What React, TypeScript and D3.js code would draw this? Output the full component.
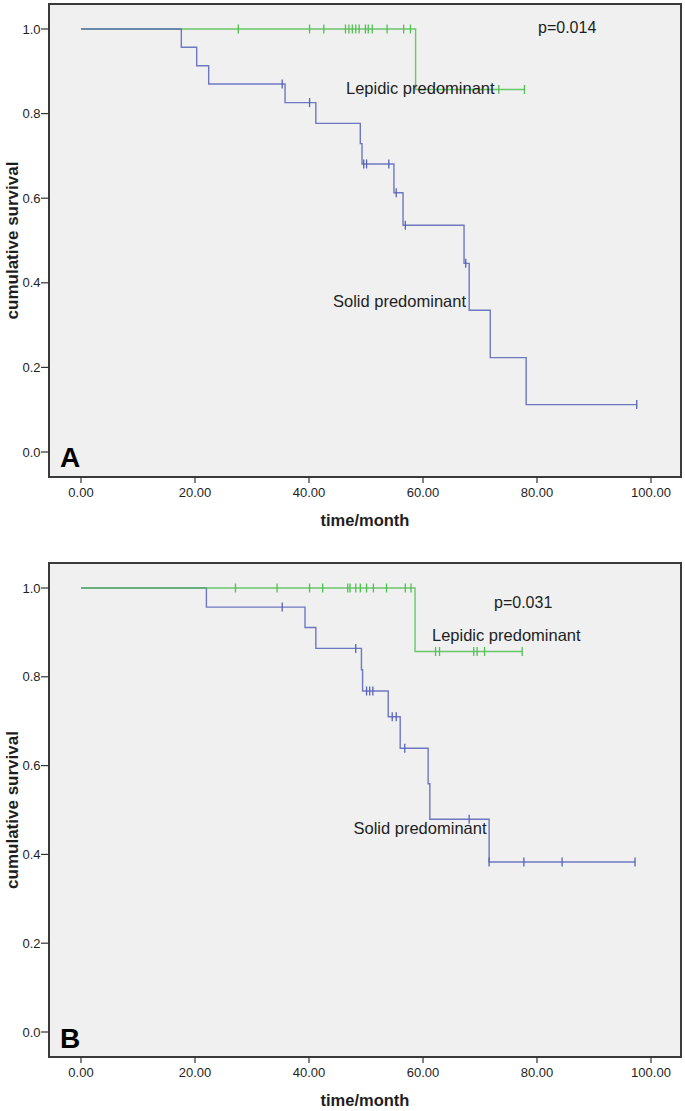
import React from "react";
import * as d3 from "d3";

// ---------- data ----------
const xTicks = [0, 20, 40, 60, 80, 100];
const yTicks = [0, 0.2, 0.4, 0.6, 0.8, 1.0];

// Panel A – Solid predominant (blue)
const aSolidTimes = [0, 17.6, 20.3, 22.4, 35.8, 41.2, 49.0, 49.3, 54.9, 56.5, 67.2, 68.1, 71.8, 78.1];
const aSolidSurv = [1, 0.957, 0.913, 0.87, 0.826, 0.777, 0.729, 0.681, 0.613, 0.536, 0.446, 0.335, 0.223, 0.112];
const aSolidEnd = 97.5;
const aSolidCensor = [35.3, 40.1, 49.6, 50.1, 54.0, 55.3, 56.9, 67.5, 97.5];
// Panel A – Lepidic predominant (green)
const aLepTimes = [0, 58.7];
const aLepSurv = [1, 0.857];
const aLepEnd = 77.8;
const aLepCensor = [27.6, 40.1, 42.6, 46.4, 47.0, 47.6, 48.2, 48.8, 49.9, 50.4, 51.1, 53.7, 56.6, 57.8, 73.3, 77.8];

// Panel B – Solid predominant (blue)
const bSolidTimes = [0, 22.0, 39.3, 41.2, 49.2, 49.4, 53.9, 56.0, 60.9, 61.2, 71.6];
const bSolidSurv = [1, 0.957, 0.911, 0.864, 0.816, 0.768, 0.71, 0.639, 0.559, 0.479, 0.383];
const bSolidEnd = 97.2;
const bSolidCensor = [35.3, 48.2, 50.1, 50.65, 51.2, 54.6, 55.3, 56.8, 68.1, 71.6, 77.7, 84.4, 97.2];
// Panel B – Lepidic predominant (green)
const bLepTimes = [0, 58.6];
const bLepSurv = [1, 0.857];
const bLepEnd = 77.4;
const bLepCensor = [27.1, 34.4, 40.1, 42.4, 46.8, 47.2, 48.2, 49.0, 50.1, 51.3, 53.6, 56.9, 57.9, 62.2, 62.9, 68.9, 69.5, 70.8, 77.4];

const pValues = ["p=0.014", "p=0.031"];
const panelLetters = ["A", "B"];
const groupNames = ["Lepidic predominant", "Solid predominant"];

// ---------- styles ----------
const GREEN = "#52bf52";
const BLUE = "#5763b8";
const TEXT = "#1e1e1e";
const NARROW = "'Liberation Sans Narrow', 'Arial Narrow', 'Liberation Sans', Arial, sans-serif";
const SANS = "'Liberation Sans', Arial, sans-serif";

type Series = { times: number[]; surv: number[]; end: number; censor: number[]; color: string };

const panels = [
  {
    letter: panelLetters[0],
    p: pValues[0],
    frameTop: 4,
    frameBottom: 477,
    yRange: [452, 29],
    series: [
      { times: aLepTimes, surv: aLepSurv, end: aLepEnd, censor: aLepCensor, color: GREEN },
      { times: aSolidTimes, surv: aSolidSurv, end: aSolidEnd, censor: aSolidCensor, color: BLUE },
    ] as Series[],
    pPos: [538, 33],
    lepPos: [346, 94],
    solPos: [333, 306.5],
    letterBase: 467,
    xLabelBase: 497,
    titleBase: 526,
  },
  {
    letter: panelLetters[1],
    p: pValues[1],
    frameTop: 563,
    frameBottom: 1057,
    yRange: [1032, 588],
    series: [
      { times: bSolidTimes, surv: bSolidSurv, end: bSolidEnd, censor: bSolidCensor, color: BLUE },
      { times: bLepTimes, surv: bLepSurv, end: bLepEnd, censor: bLepCensor, color: GREEN },
    ] as Series[],
    pPos: [494, 608],
    lepPos: [432, 641],
    solPos: [353.5, 834],
    letterBase: 1048,
    xLabelBase: 1077,
    titleBase: 1106,
  },
];

const FRAME_L = 49;
const FRAME_R = 681;

function survAt(s: Series, t: number) {
  let v = s.surv[0];
  for (let i = 0; i < s.times.length; i++) if (s.times[i] <= t) v = s.surv[i];
  return v;
}

function Panel({ cfg }: { cfg: (typeof panels)[number] }) {
  const x = d3.scaleLinear().domain([0, 100]).range([81, 651]);
  const y = d3.scaleLinear().domain([0, 1]).range(cfg.yRange);
  const line = d3
    .line<[number, number]>()
    .x((d) => x(d[0]))
    .y((d) => y(d[1]))
    .curve(d3.curveStepAfter);
  const fx = d3.format(".2f");
  const fy = d3.format(".1f");
  const midY = (cfg.frameTop + cfg.frameBottom) / 2;
  return (
    <g>
      <rect
        x={FRAME_L}
        y={cfg.frameTop}
        width={FRAME_R - FRAME_L}
        height={cfg.frameBottom - cfg.frameTop}
        fill="#f0f0f0"
        stroke="#3a3a3a"
        strokeWidth={2}
      />
      {yTicks.map((t) => (
        <g key={"y" + t}>
          <line x1={41} x2={FRAME_L} y1={y(t)} y2={y(t)} stroke="#333" strokeWidth={1.2} />
          <text x={40.5} y={y(t) + 4.5} textAnchor="end" fontFamily={NARROW} fontSize={13} fill={TEXT}>
            {fy(t)}
          </text>
        </g>
      ))}
      {xTicks.map((t) => (
        <g key={"x" + t}>
          <line x1={x(t)} x2={x(t)} y1={cfg.frameBottom} y2={cfg.frameBottom + 6} stroke="#333" strokeWidth={1.2} />
          <text x={x(t)} y={cfg.xLabelBase} textAnchor="middle" fontFamily={NARROW} fontSize={13} fill={TEXT}>
            {fx(t)}
          </text>
        </g>
      ))}
      {cfg.series.map((s, i) => {
        const pts: [number, number][] = s.times.map((t, j) => [t, s.surv[j]] as [number, number]);
        pts.push([s.end, s.surv[s.surv.length - 1]]);
        return (
          <g key={"s" + i}>
            <path d={line(pts) || ""} fill="none" stroke={s.color} strokeWidth={1.4} strokeOpacity={0.85} />
            {s.censor.map((c, k) => (
              <line
                key={k}
                x1={x(c)}
                x2={x(c)}
                y1={y(survAt(s, c)) - 4.5}
                y2={y(survAt(s, c)) + 4.5}
                stroke={s.color}
                strokeWidth={1.3}
              />
            ))}
          </g>
        );
      })}
      <text x={cfg.pPos[0]} y={cfg.pPos[1]} fontFamily={SANS} fontSize={16} fill={TEXT}>
        {cfg.p}
      </text>
      <text x={cfg.lepPos[0]} y={cfg.lepPos[1]} fontFamily={SANS} fontSize={16.5} fill={TEXT}>
        {groupNames[0]}
      </text>
      <text x={cfg.solPos[0]} y={cfg.solPos[1]} fontFamily={SANS} fontSize={16.5} fill={TEXT}>
        {groupNames[1]}
      </text>
      <text x={60} y={cfg.letterBase} fontFamily={SANS} fontWeight="bold" fontSize={28} fill="#000">
        {cfg.letter}
      </text>
      <text
        x={(FRAME_L + FRAME_R) / 2}
        y={cfg.titleBase}
        textAnchor="middle"
        fontFamily={SANS}
        fontWeight="bold"
        fontSize={16.5}
        fill={TEXT}
      >
        time/month
      </text>
      <text
        transform={`translate(17.5, ${midY}) rotate(-90)`}
        textAnchor="middle"
        fontFamily={SANS}
        fontWeight="bold"
        fontSize={17}
        fill={TEXT}
      >
        cumulative survival
      </text>
    </g>
  );
}

export default function App() {
  return (
    <svg
      width={685}
      height={1111}
      style={{ position: "absolute", left: 0, top: 0, background: "#fff" }}
      xmlns="http://www.w3.org/2000/svg"
    >
      {panels.map((p, i) => (
        <Panel key={i} cfg={p} />
      ))}
    </svg>
  );
}
